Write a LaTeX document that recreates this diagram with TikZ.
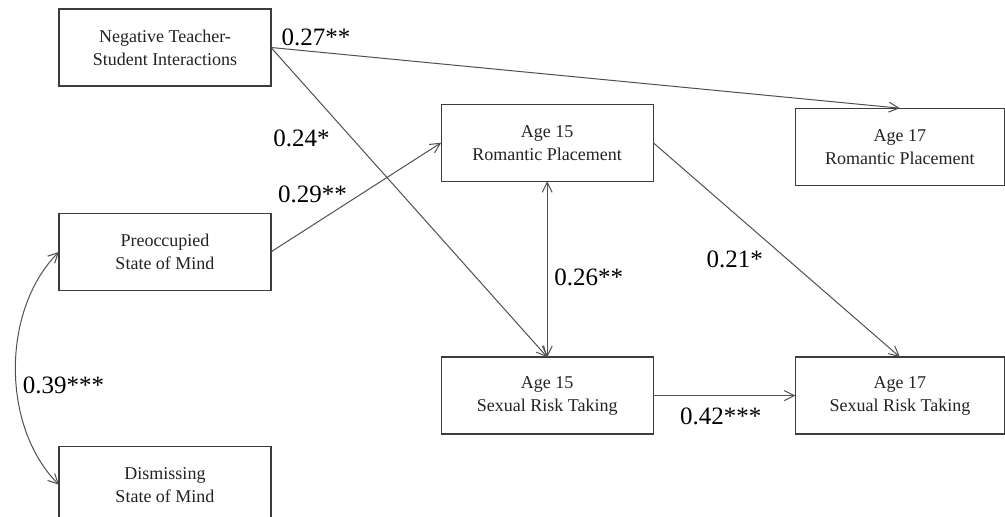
\documentclass[tikz,border=0pt]{standalone}
\usepackage{fontspec}
\setmainfont{Liberation Serif}
\usetikzlibrary{arrows.meta,backgrounds,positioning,calc,matrix}
\definecolor{boxgray}{RGB}{60,60,60}
\definecolor{linegray}{RGB}{80,80,80}
\definecolor{textgray}{RGB}{35,35,35}

\begin{document}
\begin{tikzpicture}[factor/.style={rectangle,draw=boxgray,line width=0.6pt,minimum width=106pt,minimum height=38.5pt,inner sep=2pt,outer sep=0pt,anchor=center,align=center,text=textgray,font=\fontsize{9pt}{11.5pt}\selectfont}, outcome/.style={factor,minimum width=104.5pt}, effect/.style={line width=0.5pt,->,draw=linegray,>={Straight Barb[length=5pt,width=5pt]}}, covary/.style={effect,<->}, weight/.style={inner sep=0pt,text=black,font=\fontsize{12.5pt}{15pt}\selectfont}]
\matrix[row sep=8.5pt,column sep=70.5pt]
{
\node(ntsi)[factor]{Negative Teacher-\\Student Interactions};\\
\pgfmatrixnextcell[14pt] \node(rp15)[factor]{Age 15\\Romantic Placement};  \pgfmatrixnextcell \node(rp17)[outcome,yshift=-2pt]{Age 17\\Romantic Placement};\\[5pt]
\node(pre)[factor]{Preoccupied\\State of Mind};\\[24.25pt]
\pgfmatrixnextcell \node(srt15)[factor]{Age 15\\Sexual Risk Taking};  \pgfmatrixnextcell \node(srt17)[outcome]{Age 17\\Sexual Risk Taking};\\[-3pt]
\node(dis)[factor]{Dismissing\\State of Mind};\\
};

\draw [effect] (ntsi.east) to (rp17.north);
\draw [effect] (ntsi.east) to (srt15.north);
\draw [effect] (pre.east) to (rp15.west);
\draw [covary] (rp15.south) to (srt15.north);
\draw [effect] (rp15.east) to (srt17.north);
\draw [effect] (srt15.east) to (srt17.west);
\draw [covary] (pre.west) to[out=225,in=135,looseness=0.9] (dis.west);

\node(w27)[weight] at ($(ntsi.east)+(22.5pt,5.25pt)$) {0.27**};
\node(w24)[weight] at ($(ntsi.south east)+(15.25pt,-26.25pt)$) {0.24*};
\node(w29)[weight] at ($(pre.north east)+(20.75pt,9.75pt)$) {0.29**};
\node(w26)[weight] at ($(rp15.south)+(20.75pt,-48pt)$) {0.26**};
\node(w21)[weight] at ($(rp15.south east)+(40.75pt,-39.25pt)$) {0.21*};
\node(w42)[weight] at ($(srt15.east)+(33.75pt,-10.25pt)$) {0.42***};
\node(w39)[weight] at ($(dis.north west)+(2.25pt,30.25pt)$) {0.39***};

\begin{scope}[on background layer]
\fill[white] ($(ntsi.north west)+(-29.5pt,4.5pt)$) rectangle +(502.5pt,-258.5pt);
\end{scope}
\pgfresetboundingbox
\useasboundingbox ($(ntsi.north west)+(-29.5pt,4.5pt)$) rectangle +(502.5pt,-258.5pt);
\end{tikzpicture}
\end{document}
